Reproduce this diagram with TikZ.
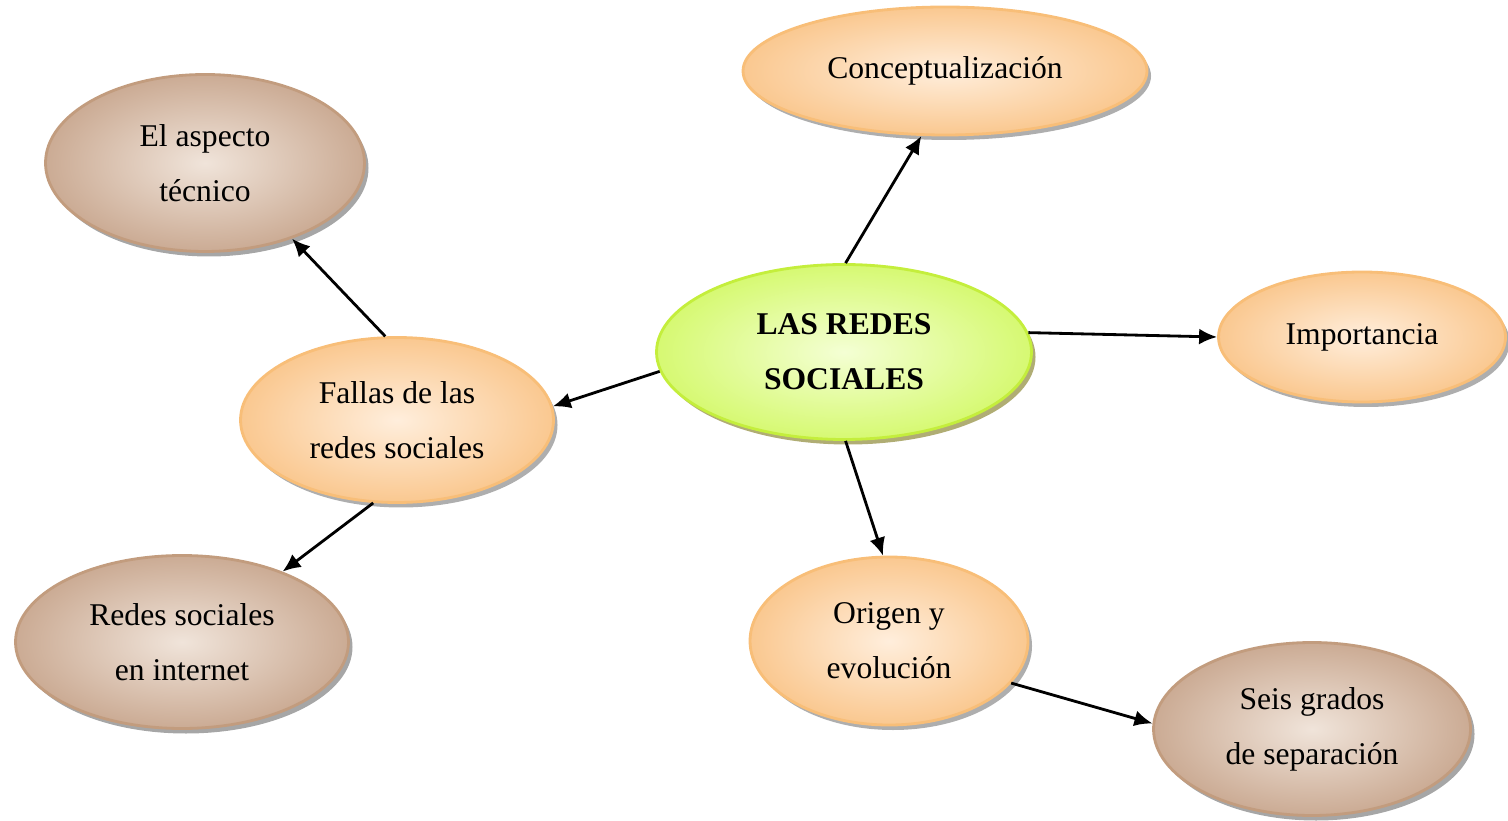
\documentclass[tikz,border=0pt]{standalone}
\usepackage{fontspec}
\setmainfont{Liberation Serif}
\usetikzlibrary{shapes.geometric,shadows,arrows.meta}

\definecolor{orangeborde}{HTML}{F8BE78}
\definecolor{orangein}{HTML}{FFEEDC}
\definecolor{orangeout}{HTML}{FAC890}
\definecolor{cafeborde}{HTML}{C29C7E}
\definecolor{cafein}{HTML}{F0E4DA}
\definecolor{cafeout}{HTML}{CBAB94}
\definecolor{verdeborde}{HTML}{C4EE3C}
\definecolor{verdein}{HTML}{F4FFD4}
\definecolor{verdeout}{HTML}{D6F972}

\tikzset{
  globo/.style={ellipse,inner sep=0pt,align=center,line width=0.8pt,
    font=\fontsize{9}{15.6}\selectfont},
  naranja/.style={globo,draw=orangeborde,inner color=orangein,outer color=orangeout,
    drop shadow={shadow xshift=0.04cm,shadow yshift=-0.05cm,fill=black!45,opacity=0.7}},
  cafe/.style={globo,draw=cafeborde,inner color=cafein,outer color=cafeout,
    drop shadow={shadow xshift=0.04cm,shadow yshift=-0.05cm,fill=black!50,opacity=0.7}},
  centro/.style={globo,draw=verdeborde,inner color=verdein,outer color=verdeout,
    font=\fontsize{9}{15.6}\selectfont\bfseries,
    drop shadow={shadow xshift=0.04cm,shadow yshift=-0.05cm,fill=olive!60!gray,opacity=0.7}},
  flecha/.style={line width=0.8pt,-{Latex[length=1.8mm,width=1.6mm]}}
}

\begin{document}
\begin{tikzpicture}
  \useasboundingbox (0,0) rectangle (15.08,8.20);

  % nodos
  \node[centro,minimum width=3.75cm,minimum height=1.75cm] (main) at (8.44,4.68) {LAS REDES\\SOCIALES};
  \node[naranja,minimum width=4.04cm,minimum height=1.28cm] (concept) at (9.45,7.49) {Conceptualizaci\'on};
  \node[naranja,minimum width=2.87cm,minimum height=1.30cm] (import) at (13.62,4.83) {Importancia};
  \node[naranja,minimum width=3.13cm,minimum height=1.65cm] (fallas) at (3.97,4.00) {Fallas de las\\redes sociales};
  \node[naranja,minimum width=2.78cm,minimum height=1.68cm] (origen) at (8.89,1.79) {Origen y\\evoluci\'on};
  \node[cafe,minimum width=3.19cm,minimum height=1.77cm] (tecnico) at (2.05,6.57) {El aspecto\\t\'ecnico};
  \node[cafe,minimum width=3.33cm,minimum height=1.73cm] (internet) at (1.82,1.78) {Redes sociales\\en internet};
  \node[cafe,minimum width=3.17cm,minimum height=1.73cm] (grados) at (13.12,0.91) {Seis grados\\de separaci\'on};

  % flechas
  \begin{scope}[every edge/.style={draw,flecha}]
    \path (main.89)    edge (concept.-110);
    \path (main.6)     edge (import.180);
    \path (main.186)   edge (fallas.5);
    \path (main.-89)   edge (origen.94);
    \path (fallas.98)  edge (tecnico.-41);
    \path (fallas.-106) edge (internet.35);
    \path (origen.-19) edge (grados.178);
  \end{scope}

\end{tikzpicture}
\end{document}
